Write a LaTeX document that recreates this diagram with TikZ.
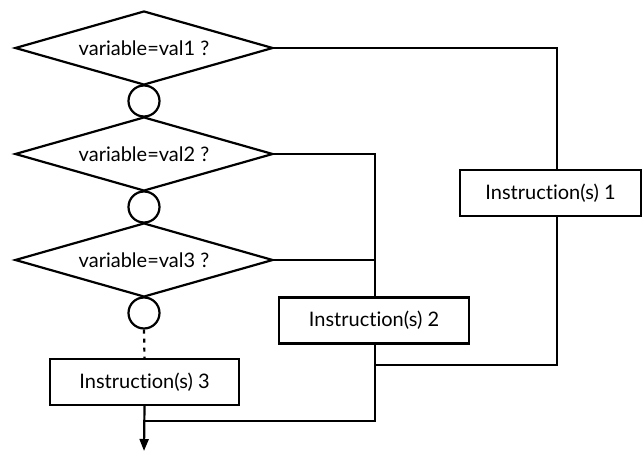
\documentclass[tikz,border=0pt]{standalone}
\usepackage{fontspec}
\setmainfont[Ligatures={NoCommon,NoRare},Contextuals=NoAlternate]{Lato}
\usetikzlibrary{shapes.geometric,arrows.meta}
\begin{document}
\begin{tikzpicture}[x=1bp,y=-1bp,line width=2.2bp,
  txt/.style={font=\fontsize{20bp}{24bp}\selectfont},
  dia/.style={draw,diamond,aspect=3.5,inner sep=0pt,minimum width=258bp,minimum height=74bp,txt},
  joint/.style={draw,circle,minimum size=31bp,inner sep=0pt},
  instr/.style={draw,rectangle,inner sep=0pt,minimum height=46bp,txt},
  every path/.style={line join=miter}]
\useasboundingbox (0,0) rectangle (643,453);
\node[dia] (d1) at (144,48) {variable=val1 ?};
\node[joint] (j1) at (144,101) {};
\node[dia] (d2) at (144,154) {variable=val2 ?};
\node[joint] (j2) at (144,207) {};
\node[dia] (d3) at (144,260) {variable=val3 ?};
\node[joint] (j3) at (144,313) {};
\node[instr,minimum width=189bp] (b3) at (144.5,382) {Instruction(s) 3};
\node[instr,minimum width=190bp] (b2) at (374,320.5) {Instruction(s) 2};
\node[instr,minimum width=181bp] (b1) at (550.5,193) {Instruction(s) 1};
\coordinate (c1) at (557,48);
\coordinate (c2) at (375,154);
\coordinate (c3) at (375,365);
\coordinate (c4) at (144,421);
\coordinate (e) at (144,451);
\draw (d1.east) -- (c1) -- (c1 |- b1.north);
\draw (c1 |- b1.south) |- (c3);
\draw (d2.east) -- (c2) -- (c2 |- b2.north);
\draw (d3.east) -- (d3.east -| c2);
\draw (c2 |- b2.south) |- (c4);
\draw[dash pattern=on 4bp off 5bp] (j3.south) -- (b3.north);
\draw[-{Triangle[length=12bp,width=9bp]}] (b3.south) -- (e);
\end{tikzpicture}
\end{document}
